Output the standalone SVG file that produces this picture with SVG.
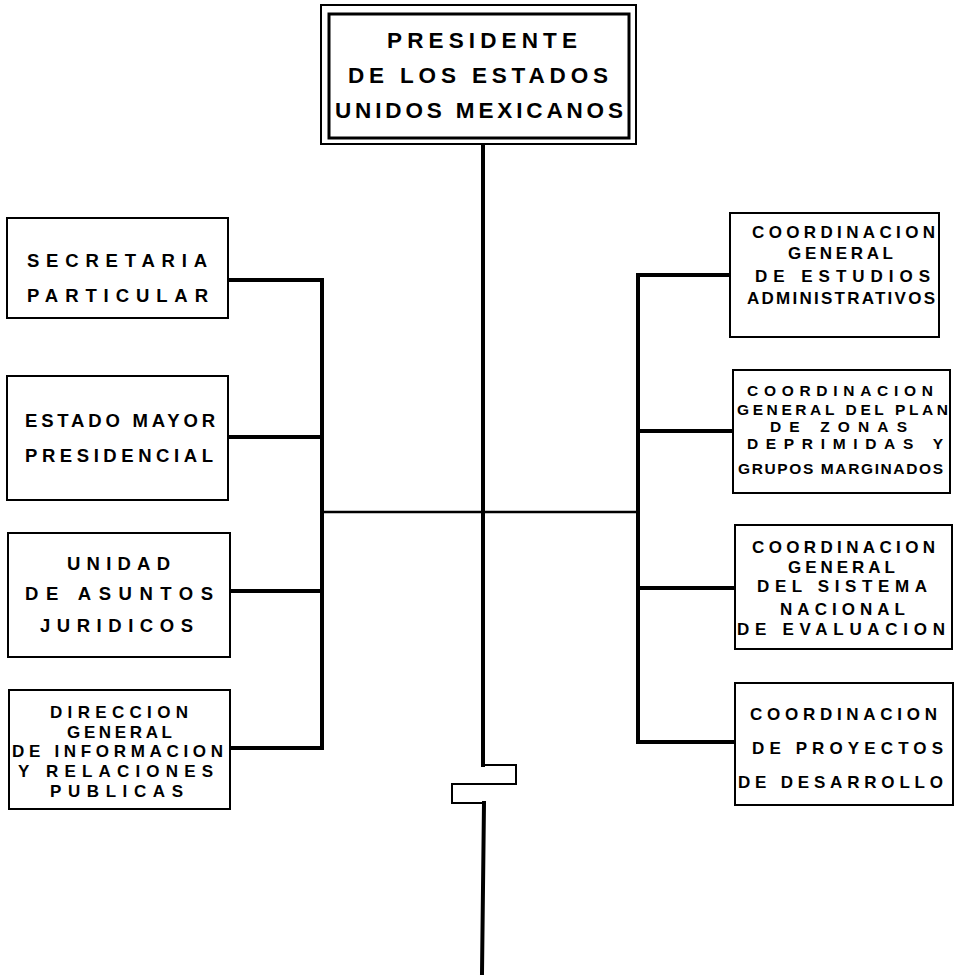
<svg xmlns="http://www.w3.org/2000/svg" width="959" height="976" viewBox="0 0 959 976">
<style>
.box{fill:#fff;stroke:#000;stroke-width:2}
.t{font-family:"Liberation Sans",Arial,sans-serif;font-weight:bold;fill:#000}
.big{font-size:22.5px}
.m{font-size:18.5px}
.s{font-size:17px}
.xs{font-size:15.5px}
.thick{stroke:#000;stroke-width:4;fill:none;stroke-linecap:square}
.mid{stroke:#000;stroke-width:2.5;fill:none}
.thin{stroke:#000;stroke-width:2;fill:none}
</style>
<rect width="959" height="976" fill="#fff"/>
<g id="connectors">
<path class="thick" d="M483 146 V765"/>
<path class="thin" d="M483 765 H516 V784 H452 V803 H484"/>
<path class="thick" d="M484 803 L482 973"/>
<path class="mid" d="M322 512 H638"/>
<path class="thick" d="M228 280 H322 V748 H230"/>
<path class="thick" d="M228 437 H322"/>
<path class="thick" d="M230 591 H322"/>
<path class="thick" d="M730 275 H638 V742 H735"/>
<path class="thick" d="M733 431 H638"/>
<path class="thick" d="M735 588 H638"/>
</g>
<g id="presidente">
<rect class="box" x="321" y="5" width="315" height="139"/>
<rect x="329" y="14" width="300" height="124" fill="none" stroke="#000" stroke-width="3"/>
<text class="t big" x="387" y="48" textLength="190" lengthAdjust="spacing">PRESIDENTE</text>
<text class="t big" x="348" y="83" textLength="260" lengthAdjust="spacing">DE LOS ESTADOS</text>
<text class="t big" x="335" y="118" textLength="288" lengthAdjust="spacing">UNIDOS MEXICANOS</text>
</g>
<g id="secretaria">
<rect class="box" x="7" y="218" width="221" height="100"/>
<text class="t m" x="27" y="267" textLength="180" lengthAdjust="spacing">SECRETARIA</text>
<text class="t m" x="27" y="302" textLength="181" lengthAdjust="spacing">PARTICULAR</text>
</g>
<g id="estado-mayor">
<rect class="box" x="7" y="376" width="221" height="124"/>
<text class="t m" x="25" y="427" textLength="190" lengthAdjust="spacing">ESTADO MAYOR</text>
<text class="t m" x="25" y="462" textLength="188" lengthAdjust="spacing">PRESIDENCIAL</text>
</g>
<g id="juridicos">
<rect class="box" x="8" y="533" width="222" height="124"/>
<text class="t m" x="67" y="570" textLength="103" lengthAdjust="spacing">UNIDAD</text>
<text class="t m" x="25" y="600" textLength="188" lengthAdjust="spacing">DE ASUNTOS</text>
<text class="t m" x="40" y="632" textLength="153" lengthAdjust="spacing">JURIDICOS</text>
</g>
<g id="informacion">
<rect class="box" x="9" y="690" width="221" height="119"/>
<text class="t s" x="50" y="718" textLength="138" lengthAdjust="spacing">DIRECCION</text>
<text class="t s" x="67" y="738" textLength="105" lengthAdjust="spacing">GENERAL</text>
<text class="t s" x="12" y="757" textLength="211" lengthAdjust="spacing">DE INFORMACION</text>
<text class="t s" x="18" y="777" textLength="195" lengthAdjust="spacing">Y RELACIONES</text>
<text class="t s" x="50" y="797" textLength="133" lengthAdjust="spacing">PUBLICAS</text>
</g>
<g id="estudios">
<rect class="box" x="730" y="213" width="209" height="124"/>
<text class="t s" x="752" y="238" textLength="183" lengthAdjust="spacing">COORDINACION</text>
<text class="t s" x="788" y="259" textLength="105" lengthAdjust="spacing">GENERAL</text>
<text class="t s" x="755" y="282" textLength="175" lengthAdjust="spacing">DE ESTUDIOS</text>
<text class="t s" x="747" y="304" textLength="188" lengthAdjust="spacing">ADMINISTRATIVOS</text>
</g>
<g id="zonas-deprimidas">
<rect class="box" x="733" y="370" width="217" height="123"/>
<text class="t xs" x="747" y="396" textLength="186" lengthAdjust="spacing">COORDINACION</text>
<text class="t xs" x="737" y="415" textLength="211" lengthAdjust="spacing">GENERAL DEL PLAN</text>
<text class="t xs" x="770" y="432" textLength="137" lengthAdjust="spacing">DE ZONAS</text>
<text class="t xs" x="747" y="449" textLength="196" lengthAdjust="spacing">DEPRIMIDAS Y</text>
<text class="t xs" x="738" y="474" textLength="205" lengthAdjust="spacing">GRUPOS MARGINADOS</text>
</g>
<g id="evaluacion">
<rect class="box" x="735" y="525" width="217" height="124"/>
<text class="t s" x="752" y="553" textLength="183" lengthAdjust="spacing">COORDINACION</text>
<text class="t s" x="788" y="573" textLength="107" lengthAdjust="spacing">GENERAL</text>
<text class="t s" x="757" y="592" textLength="170" lengthAdjust="spacing">DEL SISTEMA</text>
<text class="t s" x="780" y="615" textLength="125" lengthAdjust="spacing">NACIONAL</text>
<text class="t s" x="737" y="635" textLength="208" lengthAdjust="spacing">DE EVALUACION</text>
</g>
<g id="proyectos">
<rect class="box" x="735" y="683" width="218" height="122"/>
<text class="t s" x="750" y="720" textLength="187" lengthAdjust="spacing">COORDINACION</text>
<text class="t s" x="752" y="754" textLength="191" lengthAdjust="spacing">DE PROYECTOS</text>
<text class="t s" x="738" y="788" textLength="205" lengthAdjust="spacing">DE DESARROLLO</text>
</g>
</svg>
